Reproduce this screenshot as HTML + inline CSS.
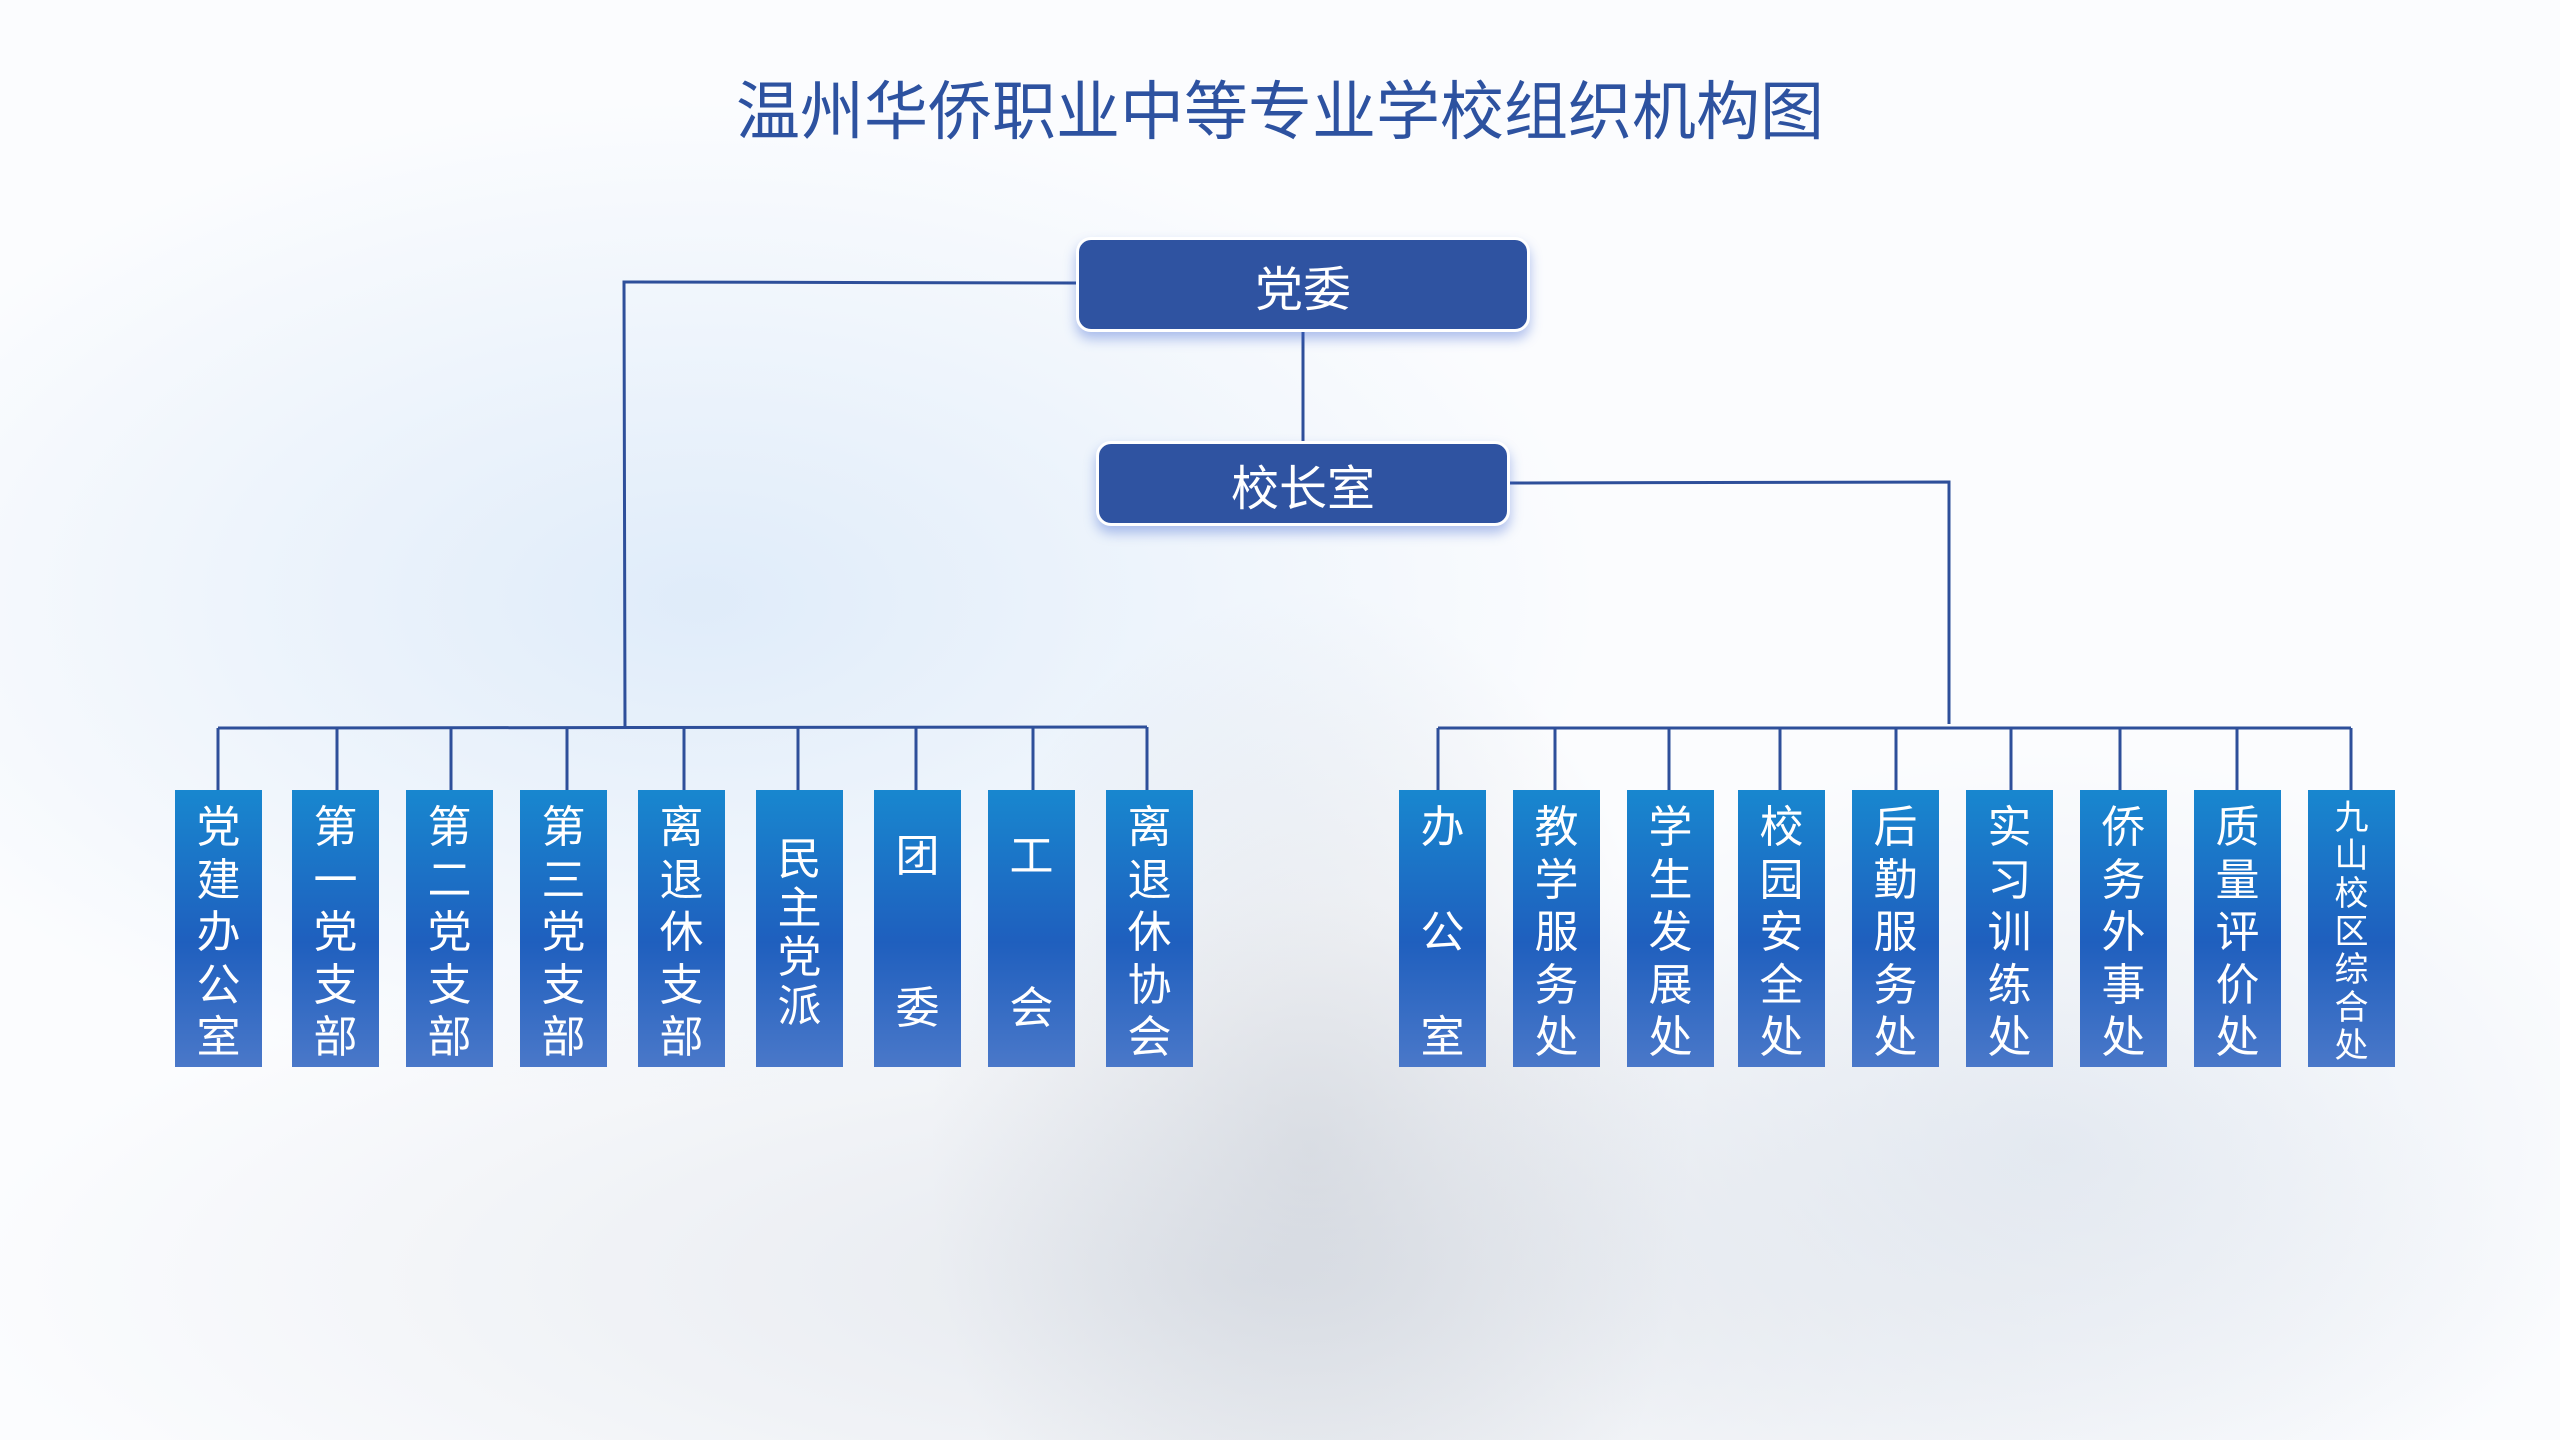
<!DOCTYPE html>
<html><head><meta charset="utf-8"><style>
*{margin:0;padding:0;box-sizing:border-box}
body{width:2560px;height:1440px;position:relative;overflow:hidden;font-family:"Liberation Sans","Noto Sans CJK SC",sans-serif;
background:
radial-gradient(ellipse 380px 560px at 1310px 1150px, rgba(165,172,184,0.28), rgba(165,172,184,0) 100%),
radial-gradient(ellipse 900px 500px at 700px 600px, rgba(205,225,246,0.6), rgba(220,235,250,0) 100%),
radial-gradient(ellipse 1300px 380px at 1250px 1280px, rgba(215,220,228,0.6), rgba(230,235,240,0) 100%),
radial-gradient(ellipse 600px 400px at 2050px 1150px, rgba(205,216,230,0.45), rgba(230,235,240,0) 100%),
#fbfcfe}
.title{position:absolute;left:0;width:2560px;top:65px;text-align:center;font-size:64px;color:#2d52a0;line-height:84px;font-family:"Noto Sans CJK SC",sans-serif}
.top{position:absolute;background:#2f53a1;border:3px solid #fff;border-radius:15px;box-shadow:0 7px 12px rgba(60,100,210,0.4);color:#fff;font-size:48px;display:flex;align-items:center;justify-content:center;font-family:"Noto Sans CJK SC",sans-serif}
.b{position:absolute;top:790px;height:277px;width:87px;background:linear-gradient(#1887cf,#1f5fbe 55%,#4a78c9);color:#fff;display:flex;flex-direction:column;align-items:center;justify-content:space-between;padding:11px 0;font-size:44px;line-height:45px;font-family:"Noto Sans CJK SC",sans-serif}
.b.c{justify-content:center;line-height:49px}
.b.t{padding:40px 0}
.b.s{font-size:34px;line-height:35px;padding:7px 0}
svg{position:absolute;left:0;top:0}
</style></head><body>
<div class="title">温州华侨职业中等专业学校组织机构图</div>
<svg width="2560" height="1440">
<g stroke="#2e4f9a" stroke-width="3" fill="none">
<path d="M1076 283 L624 282 L625 728"/>
<path d="M1303 332 L1303 441"/>
<path d="M1510 483 L1949 482 L1949 724"/>
<path d="M218 728 L1147 727"/>
<path d="M1438 728 L2351 728"/>
<path d="M218 728V790M337 728V790M451 728V790M567 728V790M684 728V790M798 728V790M916 728V790M1033 728V790M1147 727V790"/>
<path d="M1438 728V790M1555 728V790M1669 728V790M1780 728V790M1896 728V790M2011 728V790M2120 728V790M2237 728V790M2351 728V790"/>
</g>
</svg>
<div class="top" style="left:1076px;top:237px;width:454px;height:95px">党委</div>
<div class="top" style="left:1096px;top:441px;width:414px;height:85px">校长室</div>

<div class="b" style="left:175px"><span>党</span><span>建</span><span>办</span><span>公</span><span>室</span></div>
<div class="b" style="left:292px"><span>第</span><span>一</span><span>党</span><span>支</span><span>部</span></div>
<div class="b" style="left:406px"><span>第</span><span>二</span><span>党</span><span>支</span><span>部</span></div>
<div class="b" style="left:520px"><span>第</span><span>三</span><span>党</span><span>支</span><span>部</span></div>
<div class="b" style="left:638px"><span>离</span><span>退</span><span>休</span><span>支</span><span>部</span></div>
<div class="b c" style="left:756px"><span>民</span><span>主</span><span>党</span><span>派</span></div>
<div class="b t" style="left:874px"><span>团</span><span>委</span></div>
<div class="b t" style="left:988px"><span>工</span><span>会</span></div>
<div class="b" style="left:1106px"><span>离</span><span>退</span><span>休</span><span>协</span><span>会</span></div>

<div class="b" style="left:1399px"><span>办</span><span>公</span><span>室</span></div>
<div class="b" style="left:1513px"><span>教</span><span>学</span><span>服</span><span>务</span><span>处</span></div>
<div class="b" style="left:1627px"><span>学</span><span>生</span><span>发</span><span>展</span><span>处</span></div>
<div class="b" style="left:1738px"><span>校</span><span>园</span><span>安</span><span>全</span><span>处</span></div>
<div class="b" style="left:1852px"><span>后</span><span>勤</span><span>服</span><span>务</span><span>处</span></div>
<div class="b" style="left:1966px"><span>实</span><span>习</span><span>训</span><span>练</span><span>处</span></div>
<div class="b" style="left:2080px"><span>侨</span><span>务</span><span>外</span><span>事</span><span>处</span></div>
<div class="b" style="left:2194px"><span>质</span><span>量</span><span>评</span><span>价</span><span>处</span></div>
<div class="b s" style="left:2308px"><span>九</span><span>山</span><span>校</span><span>区</span><span>综</span><span>合</span><span>处</span></div>
</body></html>
